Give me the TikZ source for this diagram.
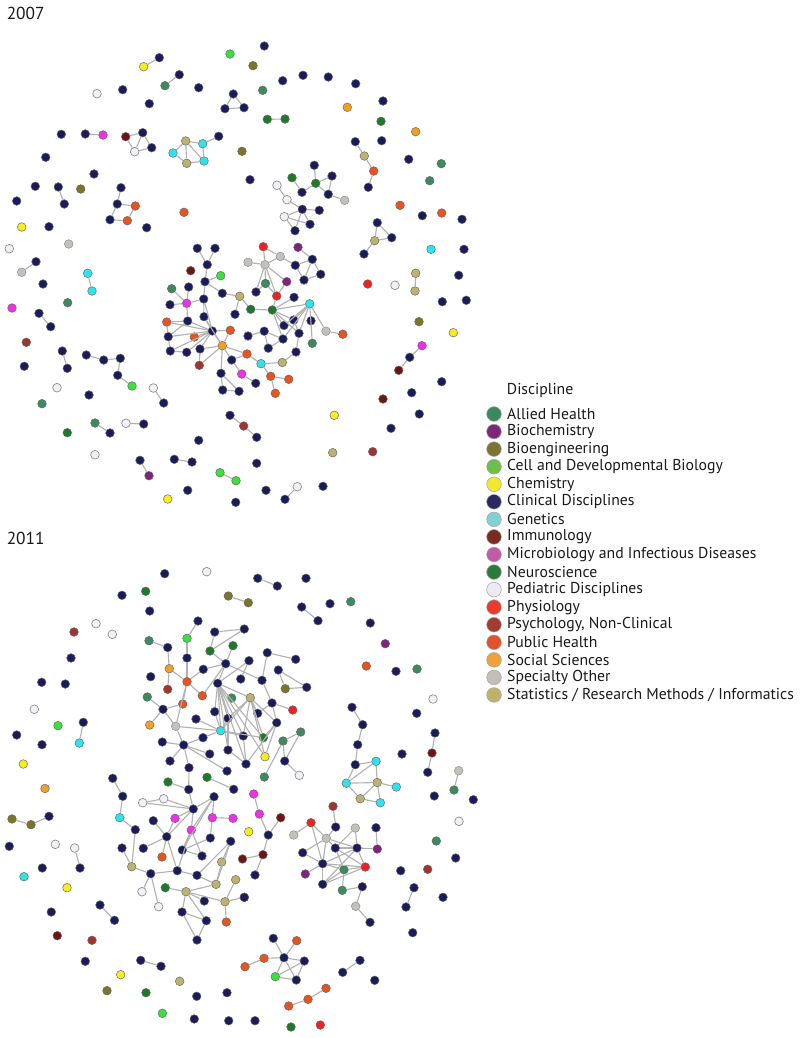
\documentclass[tikz,border=0pt]{standalone}
\usepackage{fontspec}
\setmainfont{PT Sans}
\usetikzlibrary{positioning}

% network colours
\definecolor{cAllied}{HTML}{3D8A60}
\definecolor{cBiochem}{HTML}{7E237E}
\definecolor{cBioeng}{HTML}{7A7628}
\definecolor{cCell}{HTML}{3CE03C}
\definecolor{cChem}{HTML}{F2EE22}
\definecolor{cClin}{HTML}{1C1A5A}
\definecolor{cGenet}{HTML}{30E2EA}
\definecolor{cImmuno}{HTML}{6E1414}
\definecolor{cMicro}{HTML}{EE30E6}
\definecolor{cNeuro}{HTML}{1E7A2A}
\definecolor{cPediat}{HTML}{F2F0F6}
\definecolor{cPhysio}{HTML}{EE2222}
\definecolor{cPsych}{HTML}{A03530}
\definecolor{cPubh}{HTML}{E8531E}
\definecolor{cSocial}{HTML}{F0A028}
\definecolor{cSpec}{HTML}{C4C0BC}
\definecolor{cStats}{HTML}{BDB370}
% legend colours
\definecolor{lAllied}{HTML}{3A8A5E}
\definecolor{lBiochem}{HTML}{7B2879}
\definecolor{lBioeng}{HTML}{7B7432}
\definecolor{lCell}{HTML}{6CBF48}
\definecolor{lChem}{HTML}{F2E830}
\definecolor{lClin}{HTML}{2B275F}
\definecolor{lGenet}{HTML}{82D0D6}
\definecolor{lImmuno}{HTML}{7B2B22}
\definecolor{lMicro}{HTML}{C25AA8}
\definecolor{lNeuro}{HTML}{2A7A3C}
\definecolor{lPediat}{HTML}{EEEAF2}
\definecolor{lPhysio}{HTML}{E83C2C}
\definecolor{lPsych}{HTML}{A23C32}
\definecolor{lPubh}{HTML}{E2522C}
\definecolor{lSocial}{HTML}{F0A23A}
\definecolor{lSpec}{HTML}{C4BEB8}
\definecolor{lStats}{HTML}{BEB26C}

\tikzset{
    dot/.style={circle, draw=black!60, line width=0.35pt, inner sep=0pt, minimum size=6.5pt},
    link/.style={draw=black!30, line width=0.85pt},
    allied/.style={dot, fill=cAllied},
    biochem/.style={dot, fill=cBiochem},
    bioeng/.style={dot, fill=cBioeng},
    cellbio/.style={dot, fill=cCell},
    chem/.style={dot, fill=cChem},
    clin/.style={dot, fill=cClin},
    genet/.style={dot, fill=cGenet},
    immuno/.style={dot, fill=cImmuno},
    micro/.style={dot, fill=cMicro},
    neuro/.style={dot, fill=cNeuro},
    pediat/.style={dot, fill=cPediat, draw=black!45, line width=0.5pt},
    physio/.style={dot, fill=cPhysio},
    psych/.style={dot, fill=cPsych},
    pubh/.style={dot, fill=cPubh},
    social/.style={dot, fill=cSocial},
    spec/.style={dot, fill=cSpec, draw=black!45},
    stats/.style={dot, fill=cStats},
    year/.style={inner sep=0pt, text=black!90, font=\fontsize{13}{15}\selectfont},
    legdot/.style={circle, draw=black!35, line width=0.4pt, inner sep=0pt, minimum size=11pt},
    legtext/.style={inner sep=0pt, text=black!90, font=\fontsize{11.8}{13}\selectfont}
}

\begin{document}
\begin{tikzpicture}[x=0.75pt, y=-0.75pt]
    \useasboundingbox (0,0) rectangle (800,1038);

    % Year labels
    \node (y2007) [year, anchor=north west] at (6.5,7) {2007};
    \node (y2011) [year, anchor=north west] at (6.5,531.5) {2011};

    % 2007 network: nodes
    \foreach \n/\s/\x/\y in {a1/chem/143.7/66.7, a2/clin/159.3/57.7, a3/cellbio/230/54, a4/allied/165/85.7, a5/clin/179.3/74.7,
        a6/pediat/97/93.7, a7/clin/122.7/89.7, a8/clin/198.7/87.7, a9/clin/149.3/103.7, a10/clin/233.3/94,
        a11/clin/225/108.7, a12/clin/244/107.7, a13/clin/61.3/134.3, a14/clin/85.3/134, a15/micro/103/135,
        a16/immuno/125.7/136.7, a17/clin/142.7/132.7, a18/pediat/134.7/151.7, a19/clin/151.7/147.7, a20/stats/185.7/141,
        a21/genet/202.7/143.7, a22/genet/173/153, a23/stats/186.7/163.3, a24/genet/204/161, a25/clin/218.7/136.3,
        a26/clin/45.7/157.3, a27/clin/94/174, a28/clin/35.3/186.3, a29/clin/58.3/187, a30/clin/64.3/204,
        a31/bioeng/80.7/189, a32/clin/16.7/201, a33/clin/121/187.7, a34/clin/117.3/204, a35/pubh/135.3/206,
        a36/clin/110/219.7, a37/pubh/127.3/220.7, a38/pubh/184/212.3, a39/chem/21.7/227, a40/clin/49/226.7,
        a41/clin/146.7/227.7, a42/pediat/9.3/248.7, a43/spec/68.7/244, a44/clin/264.3/46, a45/bioeng/253/65.7,
        a46/clin/282.7/80.7, a47/clin/303/75.3, a48/clin/328.3/77, a49/clin/355.7/83.7, a50/allied/262.7/90.3,
        a51/clin/383/101, a52/social/347.3/107.3, a53/neuro/267.3/119.3, a54/neuro/285/119, a55/neuro/381/121.3,
        a56/social/415.7/131.7, a57/clin/355.3/141.7, a58/stats/364.3/156, a59/pubh/373.7/171, a60/clin/368.3/187.3,
        a61/clin/381.7/140.7, a62/bioeng/242/151.3, a63/clin/408.7/159.3, a64/allied/441.3/163.7, a65/clin/250/179.7,
        a66/allied/429.7/180.7, a67/clin/314.3/165.3, a68/neuro/292/177.7, a69/neuro/315.7/183.3, a70/clin/332/176,
        a71/clin/302/192.3, a72/clin/328.3/194.3, a73/spec/344.7/200.3, a74/pediat/277/185.3, a75/pediat/287/199.7,
        a76/clin/302.3/209.3, a77/clin/319.3/210.3, a78/pediat/284.3/216.7, a79/clin/295/230.7, a80/clin/310/224.3,
        a81/pubh/400/205.3, a82/clin/422.3/215.7, a83/pubh/441.7/213, a84/clin/462/219.3, a85/clin/377.3/222.7,
        a86/stats/374.7/240.7, a87/clin/391.7/237.7, a88/clin/364/254, a89/genet/431/249.3, a90/clin/464/249.3,
        a91/spec/21.7/272.3, a92/clin/36/261.7, a93/genet/87.7/273.3, a94/genet/92/291, a95/clin/43/284,
        a96/allied/67.7/302.7, a97/micro/12/308, a98/clin/39/313.3, a99/clin/50.7/326.7, a100/psych/26.3/342.3,
        a101/clin/62.3/351, a102/clin/67.3/368.3, a103/clin/24.3/366.3, a104/clin/86.3/355, a105/clin/103.7/360,
        a106/clin/120.3/358.3, a107/clin/117.7/375.3, a108/cellbio/132/386, a109/pediat/57/387.7, a110/clin/89/395,
        a111/pediat/153.3/388, a112/clin/163.7/403, a113/allied/42/403.7, a114/allied/95/423, a115/clin/110/433,
        a116/pediat/126/423.3, a117/clin/143.7/424, a118/neuro/67.3/432.7, a119/clin/198.7/440.3, a120/clin/230/415.3,
        a121/psych/243.7/426, a122/clin/256.7/437.3, a123/pediat/95/454.7, a124/clin/140/460.3, a125/biochem/149/475.7,
        a126/clin/174.3/459.3, a127/clin/192/462, a128/cellbio/220/472.7, a129/cellbio/236/480.7, a130/clin/187.7/490.3,
        a131/chem/167.7/499, a132/clin/235.7/502.3, a133/clin/256.7/463.3, a134/clin/266/490.3, a135/pediat/297.3/486.7,
        a136/clin/285/499.3, a137/clin/323/486.3, a138/stats/332.7/452.7, a139/psych/372.7/451.7, a140/chem/334.3/415.3,
        a141/clin/391/428.3, a142/clin/419.3/414, a143/immuno/383/399, a144/clin/411.7/392.7, a145/clin/441.7/381.7,
        a146/micro/422/345.7, a147/clin/409.7/357.3, a148/immuno/398.7/370.3, a149/chem/453.3/332.7, a150/bioeng/419/321.7,
        a151/clin/442.3/301.7, a152/clin/466.3/300.3, a153/clin/458.7/275.3, a154/stats/415.7/273.3, a155/stats/415/291,
        a156/physio/367.7/284, a157/pediat/395/285.3}
        \node[\s] (\n) at (\x,\y) {};

    % 2007 network: central component
    \foreach \n/\s/\x/\y in {a158/clin/197.3/248.3, a159/clin/215/248.3, a160/clin/207.3/264.7, a161/immuno/190.7/270.7,
        a162/clin/205/281.7, a163/cellbio/220.7/275.7, a164/clin/222.3/293.3, a165/clin/188.7/287, a166/allied/171.7/288.7,
        a167/micro/186.7/303.3, a168/clin/170/304.7, a169/clin/203.7/299, a170/stats/239.7/296.3, a171/neuro/250.7/309.3,
        a172/neuro/272.3/310, a173/clin/235/314.3, a174/pubh/166.7/322, a175/clin/187.7/321, a176/clin/204/316.7,
        a177/clin/168.3/336.7, a178/pubh/194.3/337, a179/clin/212.3/331, a180/pubh/230.3/330.3, a181/clin/170.3/351,
        a182/clin/186.7/352.3, a183/clin/200/349, a184/social/222.3/345.7, a185/psych/199.3/365.3, a186/clin/231.7/360,
        a187/pubh/247/354, a188/genet/261/363.7, a189/micro/241.7/374, a190/clin/221/373.3, a191/clin/255.7/383.3,
        a192/pubh/270.7/376.3, a193/pubh/288.7/379.3, a194/pubh/275.3/393.3, a195/clin/222.7/390, a196/clin/239/391.3,
        a197/physio/263.3/246.7, a198/spec/280.3/256.5, a199/biochem/298/247.3, a200/spec/248/262.3, a201/spec/265/264.7,
        a202/clin/295.3/265.3, a203/clin/312.3/259.3, a204/clin/304/280, a205/clin/320.7/274.3, a206/allied/265.5/283.5,
        a207/biochem/286.7/281.7, a208/clin/256/292, a209/physio/276.7/296, a210/clin/294/297.3, a211/genet/309.7/303.8,
        a212/clin/293.7/320, a213/clin/311/320.8, a214/clin/284/325.5, a215/clin/299/333.3, a216/clin/283/339,
        a217/clin/264.2/331.2, a218/clin/248/336, a219/clin/268.3/348.2, a220/clin/296/352, a221/stats/282.3/362.5,
        a222/allied/312.3/343.3, a223/spec/326/331.2, a224/pubh/342.8/334.2}
        \node[\s] (\n) at (\x,\y) {};

    % 2007 network: links
    \foreach \u/\v in {a1/a2, a4/a5, a10/a11, a10/a12, a11/a12, a14/a15, a16/a17, a16/a18, a17/a18, a17/a19,
        a18/a19, a20/a21, a20/a22, a20/a23, a20/a24, a22/a23, a23/a24, a21/a24, a21/a25, a29/a30,
        a33/a34, a34/a35, a35/a37, a36/a37, a34/a36, a53/a54, a57/a58, a58/a59, a59/a60,
        a67/a69, a68/a71, a71/a69, a69/a70, a69/a72, a70/a72, a72/a73, a74/a75, a75/a76, a76/a77,
        a76/a78, a78/a80, a76/a79, a76/a80, a79/a78, a85/a86, a85/a87, a86/a87, a86/a88,
        a91/a92, a93/a94, a98/a99, a101/a102, a104/a105, a105/a106, a106/a107, a107/a108, a111/a112,
        a114/a115, a116/a117, a120/a121, a121/a122, a124/a125, a126/a127, a128/a129, a135/a136,
        a146/a147, a147/a148, a154/a155,
        a158/a160, a159/a160, a160/a162, a162/a163, a162/a164, a162/a169, a164/a170, a170/a171, a170/a173, a171/a172,
        a166/a167, a168/a167, a165/a167, a167/a169, a167/a175, a169/a176, a169/a179, a176/a179,
        a179/a175, a179/a174, a179/a177, a179/a181, a179/a182, a179/a178, a179/a183, a179/a180,
        a175/a174, a175/a177, a177/a181, a181/a182, a177/a174,
        a184/a180, a184/a183, a184/a185, a184/a186, a184/a190, a184/a187, a184/a179, a184/a176, a183/a185,
        a187/a188, a188/a221, a186/a189, a186/a187, a188/a192, a192/a193, a192/a194, a189/a191,
        a190/a195, a195/a196, a190/a196,
        a197/a198, a197/a201, a198/a201, a200/a201, a198/a202, a202/a203, a199/a203, a203/a204, a203/a205,
        a204/a205, a202/a204, a201/a208, a201/a206, a201/a207, a201/a209, a206/a208, a206/a209, a207/a209,
        a209/a172, a172/a210, a172/a211, a172/a212, a172/a214, a172/a216, a172/a215,
        a211/a212, a211/a214, a211/a215, a211/a216, a211/a222, a211/a223, a223/a224, a212/a215,
        a215/a220, a220/a221, a216/a217, a217/a218, a217/a219, a216/a219}
        \draw[link] (\u) -- (\v);

    % 2011 network: nodes
    \foreach \n/\s/\x/\y in {b1/clin/164.7/573.7, b2/pediat/206.7/571.7, b3/clin/122/595.3, b4/neuro/145.7/591.3,
        b5/bioeng/228.3/596, b6/bioeng/248.3/602.7, b7/clin/149.7/611, b8/psych/74/632, b9/pediat/96/623.7,
        b10/pediat/112.3/634.3, b11/clin/71/658, b12/clin/41.7/682.3, b13/clin/65.3/684, b14/pediat/34.3/709.3,
        b15/cellbio/58/725.7, b16/clin/83.3/722.3, b17/genet/79.3/743, b18/clin/16.7/735, b19/clin/42/744.7,
        b20/chem/23.3/764, b21/social/45/788.5, b22/bioeng/12/819, b23/bioeng/31/824.7, b24/clin/49/816.3,
        b25/clin/9.3/846.3, b26/pediat/55.3/844.3, b27/pediat/74.7/848, b28/clin/80/868, b29/clin/42.3/868,
        b30/genet/24/876.7, b31/chem/67/887.7, b32/clin/100/905, b33/clin/114.5/920.3, b34/clin/51.3/912,
        b35/immuno/57.3/935.7, b36/psych/92/940.3, b37/clin/85.3/961.3, b38/clin/140.7/960.3, b39/clin/161/966.3,
        b40/chem/120.7/974.7, b41/stats/179.7/981.3, b42/bioeng/107/990.7, b43/neuro/146/992.7, b44/clin/196.7/996.3,
        b45/clin/227/992.7, b46/cellbio/162.3/1013.3, b47/clin/194.3/1019, b48/clin/228.7/1020.7, b49/clin/255/1020.7,
        b50/neuro/291/1027, b51/physio/320.3/1025, b52/pubh/326/988.3, b53/pubh/308/999.3, b54/pubh/288.7/1006,
        b55/clin/342.7/972.3, b56/clin/360/960.3, b57/clin/374.7/980.3,
        b58/clin/273.3/938.3, b59/pubh/296.7/940.7, b60/pubh/264/958.3, b61/clin/284/957.7, b62/clin/304.3/961,
        b63/pubh/245/966.7, b64/cellbio/275.3/976.7, b65/clin/296.3/980,
        b66/clin/257.7/578.3, b67/clin/277.3/586, b68/clin/306/578.3, b69/clin/301.7/607, b70/clin/318/620.7,
        b71/clin/330/603.7, b72/allied/350.7/601.7, b73/clin/370.3/623, b74/biochem/385.3/643.7, b75/pubh/366.3/666,
        b76/clin/396/671.3, b77/allied/417/669, b78/pediat/433/699, b79/clin/352/707.3, b80/clin/362.7/724.7,
        b81/clin/357.7/744.7, b82/clin/355.3/764.7, b83/clin/416.7/713.3, b84/clin/435/733, b85/immuno/432/753,
        b86/clin/427.7/772.3, b87/clin/402/754, b88/spec/458.7/770.7, b89/allied/454/790, b90/genet/376/761.3,
        b91/genet/346.3/783.2, b92/stats/377.2/782.5, b93/genet/396.3/787, b94/stats/360.3/798.7, b95/genet/380.3/802.7,
        b96/clin/434.3/796, b97/clin/473.3/799.7, b98/pediat/459/821.3, b99/allied/436.3/841, b100/clin/455.7/858,
        b101/clin/400.7/870.7, b102/psych/427.7/869.3, b103/clin/414/887.7, b104/clin/406/907, b105/clin/443/897.3,
        b106/clin/412.7/932.7}
        \node[\s] (\n) at (\x,\y) {};

    % 2011 network: right cluster
    \foreach \n/\s/\x/\y in {b107/psych/333/806.3, b108/physio/311/822.7, b109/clin/335.7/827, b110/spec/355.3/828,
        b111/clin/376/827.7, b112/spec/293.7/835, b113/spec/326.3/838.3, b114/clin/302.7/852.7, b115/clin/335.3/848,
        b116/clin/357/848, b117/biochem/377.3/849, b118/clin/322.7/863.7, b119/allied/344/869.7, b120/physio/365.3/867,
        b121/biochem/305.3/874, b122/clin/322.7/884.3, b123/allied/342.3/890.3, b124/clin/362.3/886.7, b125/spec/355.7/906.3,
        b126/clin/370/922.3, b127/micro/253.7/794, b128/micro/259.3/814, b129/immuno/280.7/817.7, b130/chem/248.7/831.7,
        b131/clin/268.3/835, b132/immuno/263/854.7, b133/immuno/242.5/859, b134/clin/255/875, b135/clin/244.3/897.3}
        \node[\s] (\n) at (\x,\y) {};

    % 2011 network: upper component
    \foreach \n/\s/\x/\y in {b136/clin/198/621, b137/cellbio/187/638.3, b138/allied/149/640.7, b139/clin/167.7/647.5,
        b140/clin/214.7/632, b141/clin/244.3/629, b142/neuro/210/651, b143/neuro/233/645.7, b144/clin/225.7/663.7,
        b145/clin/187/658, b146/social/169.3/668.7, b147/clin/150.7/676.7, b148/clin/203.3/669.3, b149/pubh/187/681.7,
        b150/psych/167.7/689.3, b151/pubh/202.3/695.7, b152/allied/147.3/697, b153/pubh/182.7/704, b154/clin/163/709.3,
        b155/social/149.7/725, b156/spec/175.7/726.3, b157/clin/249/660.7, b158/clin/267.3/652.7, b159/clin/295.7/659.3,
        b160/clin/278.3/670, b161/clin/217.7/683.3, b162/clin/240.7/679, b163/clin/262/680.3, b164/bioeng/285.3/688.7,
        b165/clin/306.7/687.3, b166/allied/231.7/698, b167/stats/250.3/697.7, b168/clin/272/703, b169/physio/292.7/710,
        b170/clin/214.7/711.7, b171/clin/228/718.3, b172/clin/257.7/713.3, b173/clin/196/719, b174/clin/276.7/722.7,
        b175/genet/220.7/730.7, b176/clin/243.3/736, b177/neuro/263.3/737.7, b178/allied/283/741, b179/allied/300.7/732,
        b180/clin/203/737.7, b181/clin/183.7/745, b182/clin/228/750, b183/clin/209.7/754, b184/chem/265/756.7,
        b185/clin/162.3/742, b186/clin/284.7/761, b187/clin/246/764, b188/pediat/299.3/775.3, b189/allied/264.3/777,
        b190/clin/170/761, b191/clin/189/767.7, b192/clin/227/771, b193/neuro/168/782, b194/neuro/207/777.3,
        b195/clin/188.7/789.5, b196/clin/233.7/789.3}
        \node[\s] (\n) at (\x,\y) {};

    % 2011 network: lower-left component
    \foreach \n/\s/\x/\y in {b197/clin/112.7/778.3, b198/clin/122.7/796.3, b199/genet/119.7/817.7, b200/pediat/142.7/802.7,
        b201/pediat/163.7/798.7, b202/clin/193.3/809, b203/clin/214/796.7, b204/clin/153.3/820.7, b205/micro/175/818.3,
        b206/micro/212.3/817.7, b207/micro/233/818.3, b208/micro/191.3/830, b209/clin/135.3/829.7, b210/clin/166.7/836.7,
        b211/clin/210.3/838, b212/clin/230.7/841.3, b213/clin/122/848, b214/clin/143.3/848.3, b215/clin/182.3/850,
        b216/clin/202/856, b217/pubh/162/857, b218/stats/131.7/866.7, b219/stats/221.7/862, b220/clin/150.7/873.7,
        b221/clin/177.3/870.7, b222/clin/197/875.3, b223/stats/235.7/879.7, b224/pediat/142/891.7, b225/neuro/165.3/887.7,
        b226/stats/186/891.7, b227/stats/216/884.3, b228/clin/204.3/901, b229/stats/225/901.7, b230/clin/244.3/897.3,
        b231/pediat/158.7/906.7, b232/clin/182/912, b233/clin/206.3/920.7, b234/pubh/226.3/922, b235/clin/197/940}
        \node[\s] (\n) at (\x,\y) {};

    % 2011 network: links
    \foreach \u/\v in {b5/b6, b16/b17, b22/b23, b23/b24, b27/b28, b32/b33, b38/b39, b52/b53, b53/b54, b55/b56,
        b61/b58, b61/b59, b61/b60, b61/b62, b61/b64, b61/b65, b60/b63, b62/b65, b62/b64, b64/b65,
        b66/b67, b69/b70, b79/b80, b80/b81, b81/b82, b84/b85, b85/b86, b88/b89, b103/b104,
        b82/b90, b82/b91, b90/b92, b90/b91, b91/b92, b91/b94, b92/b94, b92/b93, b92/b95, b94/b95,
        b107/b109, b108/b113, b108/b118, b108/b112, b113/b114, b113/b115, b113/b118, b113/b116, b113/b109,
        b110/b115, b110/b116, b111/b117, b116/b117, b115/b116, b115/b119, b115/b120, b118/b120, b118/b119,
        b118/b116, b118/b121, b118/b122, b122/b116, b122/b119, b122/b120, b114/b118, b119/b120, b119/b123,
        b123/b124, b124/b125, b125/b126, b116/b120,
        b127/b128, b128/b131, b129/b131, b131/b132, b132/b133, b132/b134,
        b136/b137, b137/b145, b145/b149, b139/b138, b139/b146, b146/b149, b146/b150, b149/b148, b149/b151,
        b149/b153, b149/b156, b148/b144, b151/b144, b154/b152, b154/b153, b154/b155, b154/b156,
        b140/b141, b140/b142, b141/b142, b142/b144, b143/b144, b144/b163, b157/b162, b158/b159, b158/b163,
        b160/b164, b160/b165, b164/b165, b163/b168, b168/b169, b168/b174, b168/b172,
        b161/b144, b161/b157, b161/b170, b161/b171, b161/b176, b161/b187, b161/b184, b161/b177, b161/b167,
        b161/b175, b161/b182, b167/b171, b167/b176, b167/b177, b167/b184, b167/b172, b167/b174, b167/b175,
        b175/b156, b175/b173, b175/b176, b175/b177, b175/b171, b175/b170, b175/b180,
        b174/b184, b174/b177, b174/b187, b178/b179, b178/b186, b179/b186, b178/b189, b186/b188,
        b156/b181, b181/b185, b181/b190, b181/b191, b181/b180, b181/b192, b181/b183,
        b171/b182, b182/b187, b176/b187, b191/b195, b194/b196, b193/b195,
        b197/b198, b198/b199, b195/b202, b200/b201, b200/b202, b201/b202, b202/b203, b202/b205, b202/b208,
        b202/b210, b203/b208, b203/b206, b203/b215, b206/b207, b206/b211, b208/b215, b208/b216, b208/b221,
        b204/b210, b205/b210, b210/b214, b210/b217, b210/b221, b215/b211, b215/b216, b199/b209, b209/b218,
        b213/b218, b218/b220, b220/b221, b220/b224, b220/b231, b221/b222, b222/b212, b212/b227, b212/b219,
        b222/b227, b219/b227, b227/b226, b223/b229, b229/b234, b229/b226, b229/b230, b226/b225, b226/b232,
        b226/b233, b226/b228, b232/b233, b232/b235, b233/b235}
        \draw[link] (\u) -- (\v);

    % Legend
    \node (legtitle) [legtext, anchor=west] at (506.7,390.5) {Discipline};
    \foreach \c/\t [count=\i] in {lAllied/Allied Health, lBiochem/Biochemistry, lBioeng/Bioengineering,
        lCell/Cell and Developmental Biology, lChem/Chemistry, lClin/Clinical Disciplines, lGenet/Genetics,
        lImmuno/Immunology, lMicro/Microbiology and Infectious Diseases, lNeuro/Neuroscience,
        lPediat/Pediatric Disciplines, lPhysio/Physiology, lPsych/{Psychology, Non-Clinical},
        lPubh/Public Health, lSocial/Social Sciences, lSpec/Specialty Other,
        lStats/{Statistics / Research Methods / Informatics}} {
        \node (key\i) [legdot, fill=\c] at (494, 396.44+17.56*\i) {};
        \node (lab\i) [legtext, right=4pt of key\i] {\t};
    }
\end{tikzpicture}
\end{document}
